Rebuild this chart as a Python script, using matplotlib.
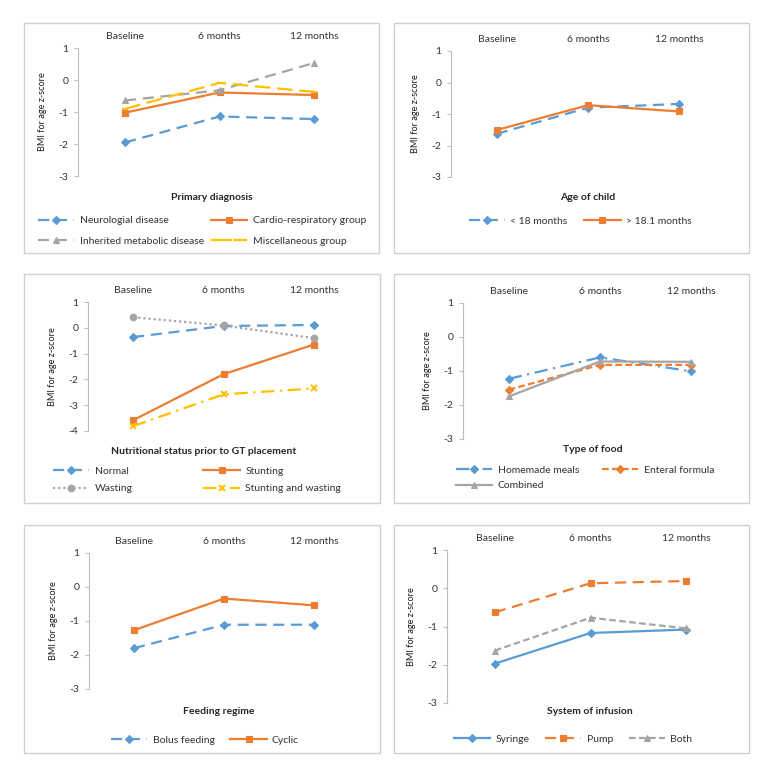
import matplotlib
matplotlib.use('Agg')
import matplotlib.pyplot as plt
from matplotlib.patches import Rectangle

plt.rcParams['font.family'] = ['Lato', 'DejaVu Sans']
plt.rcParams['axes.unicode_minus'] = False

W, H = 770, 775

time_points = ['Baseline', '6 months', '12 months']

# Primary diagnosis
neuro = [-1.95, -1.14, -1.22]
cardio = [-1.02, -0.39, -0.47]
inherited = [-0.64, -0.32, 0.53]
misc = [-0.90, -0.09, -0.37]

# Age of child
under18 = [-1.63, -0.80, -0.68]
over18 = [-1.51, -0.72, -0.92]

# Nutritional status prior to GT placement
normal = [-0.36, 0.07, 0.11]
stunting = [-3.58, -1.80, -0.65]
wasting = [0.41, 0.09, -0.40]
stunt_wast = [-3.81, -2.58, -2.35]

# Type of food
homemade = [-1.23, -0.60, -1.01]
enteral = [-1.55, -0.82, -0.82]
combined = [-1.75, -0.72, -0.73]

# Feeding regime
bolus = [-1.80, -1.11, -1.11]
cyclic = [-1.27, -0.34, -0.54]

# System of infusion
syringe = [-1.97, -1.17, -1.08]
pump = [-0.63, 0.13, 0.19]
both = [-1.63, -0.77, -1.05]

BLUE = '#5B9BD5'
ORANGE = '#ED7D31'
GREY = '#A5A5A5'
GOLD = '#FFC000'

DASH = (0, (5, 3))
LONGDASH = (0, (7, 3))
SHORTDASH = (0, (3, 1.5))
DASHDOT = (0, (6, 2.5, 1, 2.5))
DOT = (0, (1, 1.3))


def fx(x):
    return x / W


def fy(y):
    return 1 - y / H


# (title, ylim, axes px box [left, right, top, bottom], title pos, legend cfg, series)
panels = [
    ('Primary diagnosis', (-3, 1), (78, 361, 48, 176), (212, 198),
     dict(ncol=2, center=(202, 231), colsp=0.7, lsp=1.1),
     [('Neurologial disease', neuro, BLUE, DASH, 'D'),
      ('Cardio-respiratory group', cardio, ORANGE, '-', 's'),
      ('Inherited metabolic disease', inherited, GREY, DASH, '^'),
      ('Miscellaneous group', misc, GOLD, LONGDASH, '_')]),
    ('Age of child', (-3, 1), (451, 725, 51, 177), (588, 198),
     dict(ncol=2, center=(580, 221), colsp=1.6, lsp=0.7),
     [('< 18 months', under18, BLUE, DASH, 'D'),
      ('> 18.1 months', over18, ORANGE, '-', 's')]),
    ('Nutritional status prior to GT placement', (-4, 1), (88, 359, 302, 431), (204, 451),
     dict(ncol=2, center=(197, 480), colsp=6.8, lsp=0.8),
     [('Normal', normal, BLUE, DASH, 'D'),
      ('Stunting', stunting, ORANGE, '-', 's'),
      ('Wasting', wasting, GREY, DOT, 'o'),
      ('Stunting and wasting', stunt_wast, GOLD, DASHDOT, 'x')]),
    ('Type of food', (-3, 1), (463, 737, 303, 439), (593, 449),
     dict(ncol=2, center=(585, 478), colsp=2.2, lsp=0.6),
     [('Homemade meals', homemade, BLUE, DASHDOT, 'D'),
      ('Enteral formula', enteral, ORANGE, SHORTDASH, 'D'),
      ('Combined', combined, GREY, '-', '^')]),
    ('Feeding regime', (-3, 1), (89, 359, 553, 689), (219, 711),
     dict(ncol=2, center=(205, 740), colsp=1.5, lsp=0.7),
     [('Bolus feeding', bolus, BLUE, DASH, 'D'),
      ('Cyclic', cyclic, ORANGE, '-', 's')]),
    ('System of infusion', (-3, 1), (447, 734, 550, 703), (590, 711),
     dict(ncol=3, center=(573, 739), colsp=1.5, lsp=0.7),
     [('Syringe', syringe, BLUE, '-', 'D'),
      ('Pump', pump, ORANGE, DASH, 's'),
      ('Both', both, GREY, SHORTDASH, '^')]),
]

boxes = [(24, 379, 23, 253), (394, 749, 23, 253),
         (24, 380, 274, 503), (394, 749, 274, 503),
         (24, 380, 525, 753), (394, 749, 525, 753)]

fig = plt.figure(figsize=(W / 100, H / 100), dpi=100)
fig.patch.set_facecolor('white')

for (x0, x1, y0, y1) in boxes:
    fig.patches.append(Rectangle((fx(x0), fy(y1)), fx(x1 - x0), (y1 - y0) / H,
                                 transform=fig.transFigure, fill=False,
                                 edgecolor='#D0D0D0', linewidth=1.0))

for title, ylim, (l, r, t, b), (tx, ty), leg, series in panels:
    ax = fig.add_axes([fx(l), fy(b), fx(r - l), (b - t) / H])
    xs = range(len(time_points))
    handles = []
    for name, vals, col, ls, mk in series:
        mew = 1.5 if mk in ('x', '_') else 0.8
        ms = 4.0 if mk == 'D' else 4.8
        h, = ax.plot(xs, vals, color=col, linestyle=ls, linewidth=1.6,
                     marker=mk, markersize=ms, markeredgewidth=mew,
                     markerfacecolor=col, markeredgecolor=col, label=name)
        handles.append(h)
    ax.set_xlim(-0.5, len(time_points) - 0.5)
    ax.set_ylim(*ylim)
    ax.set_yticks(range(ylim[0], ylim[1] + 1))
    ax.set_xticks(list(xs))
    ax.set_xticklabels(time_points)
    ax.xaxis.tick_top()
    ax.tick_params(axis='x', length=0, pad=5, labelsize=7.5, labelcolor='#333333')
    ax.tick_params(axis='y', length=3, width=0.8, color='#BFBFBF', pad=4,
                   labelsize=7.5, labelcolor='#333333')
    for s in ('top', 'right', 'bottom'):
        ax.spines[s].set_visible(False)
    ax.spines['left'].set_color('#BFBFBF')
    ax.spines['left'].set_linewidth(0.8)
    ax.set_ylabel('BMI for age z-score', fontsize=6.6, color='#1a1a1a')
    ax.yaxis.set_label_coords(-31 / (r - l), 0.5)

    fig.text(fx(tx), fy(ty), title, fontsize=7.5, fontweight='bold',
             color='#262626', ha='center', va='center')

    ncol = leg['ncol']
    if ncol == 2 and len(handles) > 2:
        order = handles[0::2] + handles[1::2]
    else:
        order = handles
    cx, cy = leg['center']
    fig.legend(handles=order, labels=[h.get_label() for h in order],
               loc='center', bbox_to_anchor=(fx(cx), fy(cy)), ncol=ncol,
               frameon=False, fontsize=7.5, handlelength=3.5,
               columnspacing=leg['colsp'], labelspacing=leg['lsp'],
               handletextpad=0.5, borderpad=0, borderaxespad=0,
               labelcolor='#333333')

fig.savefig('out.png', dpi=100, facecolor='white')
